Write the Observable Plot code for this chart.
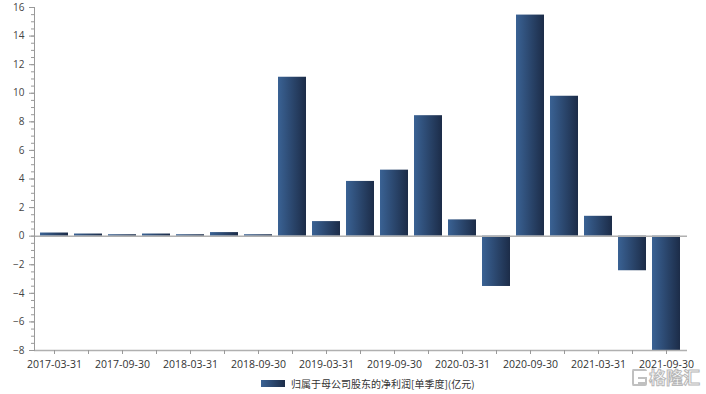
<!DOCTYPE html>
<html>
<head>
<meta charset="utf-8">
<script src="https://cdn.jsdelivr.net/npm/d3@7"></script>
<script src="https://cdn.jsdelivr.net/npm/@observablehq/plot@0.6"></script>
<style>
  body { margin: 0; background: #fff; font-family: "Noto Sans CJK SC", "Open Sans", sans-serif; }
  #wrap { position: relative; width: 706px; height: 394px; }
  #legend { position: absolute; left: 261px; top: 376px; display: flex; align-items: center; font-size: 10px; color: #333; }
  #legend .sw { width: 24px; height: 7px; background: linear-gradient(to right, #3a6294, #1c2c48); margin-right: 6px; }
  #wm { position: absolute; left: 632px; top: 368px; display: flex; align-items: center; height: 18px; }
  #wm .ic { width: 15px; height: 17px; border: 2px solid #c0c0c0; border-right: none; border-radius: 2px; box-sizing: border-box; margin-right: 2px; position: relative; }
  #wm .ic::after { content: ""; position: absolute; left: 4px; top: 6px; width: 9px; height: 7px; border: 2px solid #c0c0c0; border-left: none; box-sizing: border-box; }
  #wm .tx { font-size: 17px; line-height: 18px; color: #fff; -webkit-text-stroke: 1px #b8b8b8; font-weight: bold; }
</style>
</head>
<body>
<div id="wrap">
  <div id="chart"></div>
  <div id="legend"><div class="sw"></div><span>归属于母公司股东的净利润[单季度](亿元)</span></div>
  <div id="wm"><div class="ic"></div><span class="tx">格隆汇</span></div>
</div>
<script>
const quarters = [
  "2017-03-31","2017-06-30","2017-09-30","2017-12-31",
  "2018-03-31","2018-06-30","2018-09-30","2018-12-31",
  "2019-03-31","2019-06-30","2019-09-30","2019-12-31",
  "2020-03-31","2020-06-30","2020-09-30","2020-12-31",
  "2021-03-31","2021-06-30","2021-09-30"
];
const netProfit = [0.22, 0.15, 0.10, 0.15, 0.10, 0.25, 0.10, 11.12, 1.02, 3.83, 4.62, 8.43, 1.14, -3.52, 15.47, 9.79, 1.39, -2.42, -8.0];
const yTicks = [-8, -6, -4, -2, 0, 2, 4, 6, 8, 10, 12, 14, 16];
const yMinorTicks = d3.range(-8, 16.01, 0.5);
const labeledQuarters = quarters.filter((d, i) => i % 2 === 0);

const data = quarters.map((q, i) => ({q, v: netProfit[i]}));

const chart = Plot.plot({
  width: 706,
  height: 372,
  marginTop: 7,
  marginBottom: 22,
  marginLeft: 34,
  marginRight: 19,
  style: {fontFamily: "'Open Sans', 'Noto Sans', sans-serif", fontSize: "10px", color: "#333"},
  x: {domain: quarters, paddingInner: 0.167, paddingOuter: 0.09, align: 0.5, label: null},
  y: {domain: [-8, 16], label: null},
  marks: [
    Plot.barY(data, {x: "q", y: "v", fill: "url(#barGrad)"}),
    Plot.ruleY([0], {stroke: "#b0b0b0", strokeWidth: 1.5}),
    Plot.ruleY([-8], {stroke: "#b0b0b0", strokeWidth: 1.5}),
    Plot.axisY(yMinorTicks, {tickSize: 3, tickFormat: () => "", stroke: "#999"}),
    Plot.axisY(yTicks, {tickSize: 5, tickPadding: 5, stroke: "#999", fill: "#444", fontSize: 10}),
    Plot.axisX(quarters, {tickSize: 4, tickPadding: 6, stroke: "#999", fill: "#333", fontSize: 10.5,
      tickFormat: d => labeledQuarters.includes(d) ? d : ""}),
    Plot.frame({anchor: "left", stroke: "#999"})
  ]
});

const svg = d3.select(chart);
const defs = svg.insert("defs", ":first-child");
const grad = defs.append("linearGradient").attr("id", "barGrad").attr("x1", 0).attr("x2", 1).attr("y1", 0).attr("y2", 0);
grad.append("stop").attr("offset", "0%").attr("stop-color", "#3a6294");
grad.append("stop").attr("offset", "100%").attr("stop-color", "#1c2c48");

document.getElementById("chart").appendChild(chart);
</script>
</body>
</html>
